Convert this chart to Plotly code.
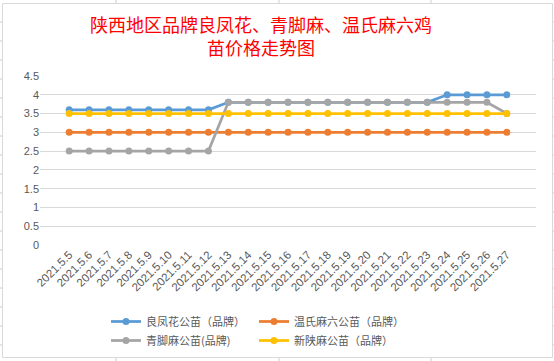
import plotly.graph_objects as go

dates = ["2021.5.5", "2021.5.6", "2021.5.7", "2021.5.8", "2021.5.9", "2021.5.10",
         "2021.5.11", "2021.5.12", "2021.5.13", "2021.5.14", "2021.5.15", "2021.5.16",
         "2021.5.17", "2021.5.18", "2021.5.19", "2021.5.20", "2021.5.21", "2021.5.22",
         "2021.5.23", "2021.5.24", "2021.5.25", "2021.5.26", "2021.5.27"]

liangfenghua = [3.6, 3.6, 3.6, 3.6, 3.6, 3.6, 3.6, 3.6, 3.8, 3.8, 3.8, 3.8,
                3.8, 3.8, 3.8, 3.8, 3.8, 3.8, 3.8, 4.0, 4.0, 4.0, 4.0]
wenshima = [3.0] * 23
qingjiaoma = [2.5, 2.5, 2.5, 2.5, 2.5, 2.5, 2.5, 2.5, 3.8, 3.8, 3.8, 3.8,
              3.8, 3.8, 3.8, 3.8, 3.8, 3.8, 3.8, 3.8, 3.8, 3.8, 3.5]
xinshanma = [3.5] * 23

y_ticks = [0, 0.5, 1, 1.5, 2, 2.5, 3, 3.5, 4, 4.5]
y_tick_labels = ["0", "0.5", "1", "1.5", "2", "2.5", "3", "3.5", "4", "4.5"]

names = ["良凤花公苗（品牌）", "温氏麻六公苗（品牌）", "青脚麻公苗(品牌)", "新陕麻公苗（品牌）"]
colors = ["#5B9BD5", "#ED7D31", "#A5A5A5", "#FFC000"]
series = [liangfenghua, wenshima, qingjiaoma, xinshanma]
legend_ids = ["legend", "legend2", "legend", "legend2"]

W, H = 554, 361
L, R, T, B = 40, 18, 76, 116
PW, PH = W - L - R, H - T - B


def px(x):  # window pixel -> paper x
    return (x - L) / PW


def py(y):  # window pixel -> paper y
    return (H - B - y) / PH


fig = go.Figure()
for name, col, vals, lg in zip(names, colors, series, legend_ids):
    fig.add_trace(go.Scatter(
        x=dates, y=vals, name=name, mode="lines+markers",
        line=dict(color=col, width=2.75),
        marker=dict(color=col, size=7),
        legend=lg,
    ))

font_main = "Liberation Sans, Noto Sans CJK SC, sans-serif"
legend_font = dict(family="Noto Sans CJK SC, sans-serif", size=11, color="#595959")

shapes = []
# chart frame
shapes.append(dict(type="rect", xref="paper", yref="paper",
                   x0=px(2.5), x1=px(552.5), y0=py(357.5), y1=py(3.5),
                   line=dict(color="#D9D9D9", width=1), fillcolor="rgba(0,0,0,0)", layer="below"))
# spreadsheet cell lines peeking outside the chart
for ry in range(22, 361, 19):
    shapes.append(dict(type="line", xref="paper", yref="paper",
                       x0=px(0), x1=px(2), y0=py(ry), y1=py(ry),
                       line=dict(color="#C8CCDA", width=1)))
    shapes.append(dict(type="line", xref="paper", yref="paper",
                       x0=px(553), x1=px(554), y0=py(ry), y1=py(ry),
                       line=dict(color="#C8CCDA", width=1)))
for cx in [116, 279, 431]:
    shapes.append(dict(type="line", xref="paper", yref="paper",
                       x0=px(cx), x1=px(cx), y0=py(0), y1=py(3),
                       line=dict(color="#C8CCDA", width=1)))
    shapes.append(dict(type="line", xref="paper", yref="paper",
                       x0=px(cx), x1=px(cx), y0=py(358), y1=py(361),
                       line=dict(color="#C8CCDA", width=1)))

fig.add_annotation(
    text="陕西地区品牌良凤花、青脚麻、温氏麻六鸡<br>苗价格走势图",
    xref="paper", yref="paper", x=px(261), y=py(35.5),
    xanchor="center", yanchor="middle", showarrow=False,
    font=dict(family="Noto Sans CJK SC, sans-serif", size=18, color="#FF0000"),
)

fig.update_layout(
    width=W, height=H,
    margin=dict(l=L, r=R, t=T, b=B, autoexpand=False),
    paper_bgcolor="white", plot_bgcolor="white",
    font=dict(family=font_main, color="#595959"),
    xaxis=dict(
        type="category", tickangle=-45, showgrid=False, showline=False,
        ticks="", tickfont=dict(size=11.5, color="#595959", family=font_main),
        zeroline=False,
    ),
    yaxis=dict(
        range=[0, 4.5], tickmode="array", tickvals=y_ticks, ticktext=y_tick_labels,
        showgrid=True, gridcolor="#D9D9D9",
        gridwidth=1, showline=False, zeroline=False, ticks="",
        tickfont=dict(size=11, color="#595959", family=font_main),
    ),
    legend=dict(x=px(106), y=py(307), xanchor="left", yanchor="top",
                orientation="v", font=legend_font, bgcolor="rgba(0,0,0,0)",
                tracegroupgap=0),
    legend2=dict(x=px(254), y=py(307), xanchor="left", yanchor="top",
                 orientation="v", font=legend_font, bgcolor="rgba(0,0,0,0)",
                 tracegroupgap=0),
    shapes=shapes,
    showlegend=True,
)

fig.write_html(
    "out.html",
    config={"displayModeBar": False},
    post_script="document.body.style.margin='0';document.body.style.overflow='hidden';",
)
